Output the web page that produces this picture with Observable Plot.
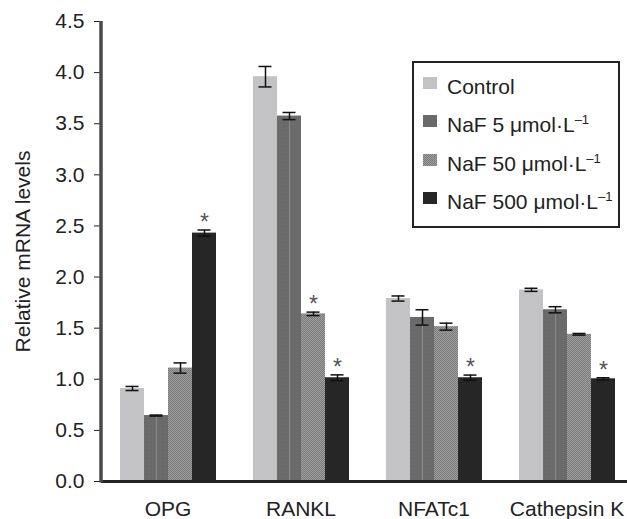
<!DOCTYPE html>
<html><head><meta charset="utf-8">
<script src="https://cdn.jsdelivr.net/npm/d3@7"></script>
<script src="https://cdn.jsdelivr.net/npm/@observablehq/plot@0.6"></script>
<style>
body{margin:0;background:#fff;font-family:"Liberation Sans",Arial,sans-serif;}
#wrap{position:relative;width:627px;height:519px;overflow:hidden}
.legend{position:absolute;left:412px;top:61px;width:204px;height:163px;border:2px solid #222;background:#fff;font-size:21px;color:#222}
.row{position:absolute;left:0;height:24px;line-height:24px;white-space:nowrap}
.sw{position:absolute;left:9px;top:2px;width:14px;height:12px}
.lt{position:absolute;left:33px;top:0}
.lt sup{font-size:13px;vertical-align:8px;line-height:0}
</style></head><body><div id="wrap"></div>
<script>
const categories = ["OPG", "RANKL", "NFATc1", "Cathepsin K"];
const seriesNames = ["Control", "NaF 5 μmol·L–1", "NaF 50 μmol·L–1", "NaF 500 μmol·L–1"];
const control = [0.91, 3.96, 1.79, 1.875];
const naf5 = [0.645, 3.575, 1.605, 1.68];
const naf50 = [1.11, 1.64, 1.515, 1.44];
const naf500 = [2.43, 1.015, 1.015, 1.005];
const controlErr = [0.02, 0.10, 0.025, 0.015];
const naf5Err = [0.005, 0.035, 0.075, 0.03];
const naf50Err = [0.05, 0.017, 0.034, 0.008];
const naf500Err = [0.03, 0.028, 0.026, 0.01];
const controlSig = [false, false, false, false];
const naf5Sig = [false, false, false, false];
const naf50Sig = [false, true, false, false];
const naf500Sig = [true, true, true, true];
const yTicks = [0, 0.5, 1, 1.5, 2, 2.5, 3, 3.5, 4, 4.5];
const yLabel = "Relative mRNA levels";

const values = [control, naf5, naf50, naf500];
const errs = [controlErr, naf5Err, naf50Err, naf500Err];
const sigs = [controlSig, naf5Sig, naf50Sig, naf500Sig];
const data = [];
categories.forEach((c, i) => seriesNames.forEach((s, j) => data.push({category: c, series: s, value: values[j][i], err: errs[j][i], sig: sigs[j][i]})));

const fills = ["#c3c3c5", "url(#pat5)", "url(#pat50)", "#262626"];
const marginLeft = 101;

const chart = Plot.plot({
  width: 627, height: 519,
  marginLeft, marginRight: -6, marginTop: 21, marginBottom: 38,
  style: {fontFamily: "'Liberation Sans', Arial, sans-serif", fontSize: "21px", color: "#222", background: "white", overflow: "hidden"},
  fx: {domain: categories, padding: 0, label: null, tickSize: 0, tickPadding: 20, axis: "bottom"},
  x: {domain: seriesNames, paddingInner: 0, paddingOuter: 0.755, axis: null},
  y: {domain: [0, 4.5], ticks: yTicks, tickFormat: ".1f", tickSize: 7, tickPadding: 10, label: yLabel, labelAnchor: "center", labelArrow: "none", labelOffset: 86},
  color: {domain: seriesNames, range: fills},
  marks: [
    Plot.barY(data, {fx: "category", x: "series", y: "value", fill: "series"}),
    Plot.ruleX(data.filter(d => d.series === seriesNames[1]), {fx: "category", x: "series", y1: 0, y2: "value", stroke: "#8c8c8c", strokeWidth: 1}),
    Plot.ruleX(data, {fx: "category", x: "series", y1: d => d.value - d.err, y2: d => d.value + d.err, stroke: "#111", strokeWidth: 1.5}),
    Plot.tickY(data, {fx: "category", x: "series", y: d => d.value + d.err, insetLeft: 5.5, insetRight: 5.5, stroke: "#111", strokeWidth: 1.5}),
    Plot.tickY(data, {fx: "category", x: "series", y: d => d.value - d.err, insetLeft: 5.5, insetRight: 5.5, stroke: "#111", strokeWidth: 1.5}),
    Plot.text(data.filter(d => d.sig), {fx: "category", x: "series", y: d => d.value + d.err, text: () => "*", dy: -7, fontSize: 23, fill: "#555"}),
    Plot.ruleY([0], {stroke: "#222", strokeWidth: 3})
  ]
});

const svg = d3.select(chart.tagName.toLowerCase() === "svg" ? chart : chart.querySelector("svg"));

// y-axis line, drawn from the chart's own y scale
const yScale = chart.scale("y");
svg.append("line")
  .attr("x1", marginLeft).attr("x2", marginLeft)
  .attr("y1", yScale.apply(yScale.domain[0]) + 1.5)
  .attr("y2", yScale.apply(yScale.domain[1]))
  .attr("stroke", "#4a4a4a").attr("stroke-width", 3.5);

// pattern definitions for the textured fills
const defs = svg.insert("defs", ":first-child");
const p5 = defs.append("pattern").attr("id", "pat5").attr("patternUnits", "userSpaceOnUse").attr("width", 4).attr("height", 4);
p5.append("rect").attr("width", 4).attr("height", 4).attr("fill", "#6a6a6a");
p5.append("rect").attr("width", 1).attr("height", 1).attr("fill", "#727272");
const p50 = defs.append("pattern").attr("id", "pat50").attr("patternUnits", "userSpaceOnUse").attr("width", 2).attr("height", 2);
p50.append("rect").attr("width", 2).attr("height", 2).attr("fill", "#9d9d9d");
p50.append("rect").attr("width", 1).attr("height", 1).attr("fill", "#7c7c7c");
p50.append("rect").attr("x", 1).attr("y", 1).attr("width", 1).attr("height", 1).attr("fill", "#7c7c7c");

const wrap = document.getElementById("wrap");
wrap.appendChild(chart);

// legend overlay
const legend = document.createElement("div");
legend.className = "legend";
const swatchCss = ["#c3c3c5", "#6a6a6a", "repeating-conic-gradient(#7c7c7c 0 25%, #9d9d9d 0 50%) 0 0/2px 2px", "#262626"];
seriesNames.forEach((s, i) => {
  const row = document.createElement("div");
  row.className = "row";
  row.style.top = (12 + i * 38.3) + "px";
  row.style.width = "100%";
  const sw = document.createElement("div");
  sw.className = "sw";
  sw.style.background = swatchCss[i];
  row.appendChild(sw);
  const t = document.createElement("div");
  t.className = "lt";
  const m = s.match(/^(.*?)(–1)?$/);
  t.textContent = m[1];
  if (m[2]) { const sup = document.createElement("sup"); sup.textContent = m[2]; t.appendChild(sup); }
  row.appendChild(t);
  legend.appendChild(row);
});
wrap.appendChild(legend);
</script>
</body></html>
